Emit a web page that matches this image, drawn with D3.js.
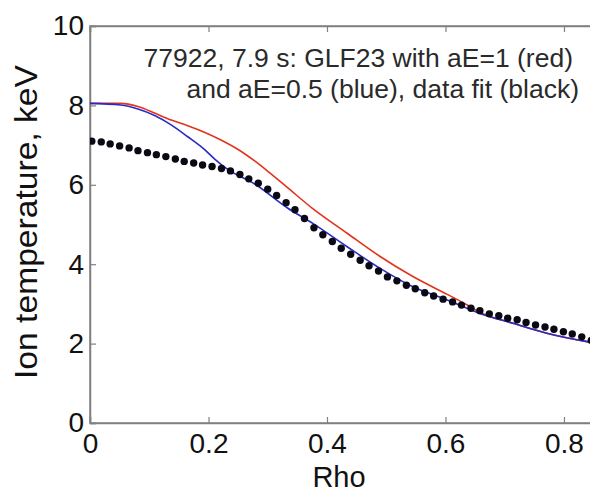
<!DOCTYPE html>
<html lang="en">
<head>
    <meta charset="UTF-8">
    <title>Ion temperature profile</title>
    <style>
        body { margin: 0; background: #fff; }
        svg text { font-family: "Liberation Sans", Arial, sans-serif; }
    </style>
    <script src="https://d3js.org/d3.v7.min.js"></script>
</head>
<body>
    <div id="chart"></div>

    <script>
        // values
        const xTicks = [0, 0.2, 0.4, 0.6, 0.8]
        const yTicks = [0, 2, 4, 6, 8, 10]

        // GLF23 with aE=1 (red)
        const redRho = [0, 0.052, 0.081, 0.110, 0.137, 0.165, 0.194, 0.221, 0.250, 0.278, 0.305, 0.334, 0.376, 0.434, 0.489, 0.545, 0.603, 0.636, 0.658, 0.714, 0.771, 0.839, 0.86]
        const redT   = [8.05, 8.05, 7.97, 7.80, 7.63, 7.49, 7.32, 7.13, 6.89, 6.60, 6.28, 5.92, 5.40, 4.78, 4.20, 3.69, 3.24, 2.98, 2.79, 2.51, 2.26, 2.05, 2.00]

        // GLF23 with aE=0.5 (blue)
        const blueRho = [0, 0.052, 0.081, 0.110, 0.137, 0.165, 0.194, 0.211, 0.233, 0.278, 0.334, 0.376, 0.434, 0.489, 0.545, 0.603, 0.658, 0.714, 0.771, 0.839, 0.86]
        const blueT   = [8.05, 8.01, 7.91, 7.74, 7.51, 7.21, 6.88, 6.64, 6.38, 6.02, 5.41, 5.03, 4.44, 3.90, 3.43, 3.10, 2.76, 2.51, 2.26, 2.05, 2.00]

        // data fit (black dots)
        const fitRho = [0.003, 0.019, 0.034, 0.050, 0.066, 0.081, 0.097, 0.112, 0.128, 0.144,
                        0.159, 0.175, 0.190, 0.206, 0.222, 0.237, 0.253, 0.268, 0.284, 0.300,
                        0.315, 0.331, 0.346, 0.362, 0.378, 0.393, 0.409, 0.424, 0.440, 0.456,
                        0.471, 0.487, 0.502, 0.518, 0.534, 0.549, 0.565, 0.580, 0.596, 0.612,
                        0.627, 0.643, 0.658, 0.674, 0.690, 0.705, 0.721, 0.736, 0.752, 0.768,
                        0.783, 0.799, 0.814, 0.830, 0.846]
        const fitT   = [7.10, 7.08, 7.03, 6.98, 6.93, 6.86, 6.81, 6.76, 6.71, 6.65,
                        6.59, 6.55, 6.50, 6.46, 6.41, 6.35, 6.26, 6.15, 6.04, 5.89,
                        5.73, 5.55, 5.37, 5.15, 4.92, 4.74, 4.57, 4.40, 4.25, 4.10,
                        3.96, 3.83, 3.68, 3.58, 3.47, 3.38, 3.28, 3.20, 3.12, 3.05,
                        2.97, 2.89, 2.83, 2.75, 2.70, 2.64, 2.60, 2.53, 2.47, 2.42,
                        2.36, 2.30, 2.24, 2.17, 2.08]

        const noteLines = ["77922, 7.9 s: GLF23 with aE=1 (red)", "and aE=0.5 (blue), data fit (black)"]

        // layout
        const margin = {top: 26, left: 90}
        const width = 503.6, height = 397
        const axisColor = "#808080"

        const svg = d3.select("#chart")
            .append("svg")
            .attr("width", 590)
            .attr("height", 492)

        const g = svg.append("g")
            .attr("transform", `translate(${margin.left},${margin.top})`)

        const x = d3.scaleLinear().domain([0, 0.85]).range([0, width])
        const y = d3.scaleLinear().domain([0, 10]).range([height, 0])

        const zip = (a, b) => a.map((v, i) => [v, b[i]])

        //clip so the curves stop at the box
        g.append("clipPath").attr("id", "clip")
            .append("rect").attr("width", width).attr("height", height)

        // frame lines
        g.append("rect")
            .attr("width", width).attr("height", height)
            .attr("fill", "none")
            .attr("stroke", axisColor)
            .attr("stroke-width", 1.5)

        // bottom axis with inward ticks
        const xAxis = g.append("g")
            .attr("transform", `translate(0,${height})`)
            .call(d3.axisBottom(x).tickValues(xTicks).tickSize(-6).tickPadding(10).tickFormat(d3.format("")))
        // top ticks
        const xTop = g.append("g")
            .call(d3.axisTop(x).tickValues(xTicks).tickSize(-6).tickFormat(""))
        // left axis
        const yAxis = g.append("g")
            .call(d3.axisLeft(y).tickValues(yTicks).tickSize(-6).tickPadding(6))

        ;[xAxis, xTop, yAxis].forEach(a => {
            a.select(".domain").attr("stroke", axisColor).attr("stroke-width", 1.5)
            a.selectAll(".tick line").attr("stroke", axisColor).attr("stroke-width", 1.2)
            a.selectAll("text").attr("fill", "#111").style("font-size", "28px")
                .style("font-family", "'Liberation Sans', Arial, sans-serif")
        })

        const line = d3.line()
            .x(d => x(d[0]))
            .y(d => y(d[1]))
            .curve(d3.curveMonotoneX)

        const plot = g.append("g").attr("clip-path", "url(#clip)")

        plot.append("path")
            .datum(zip(redRho, redT))
            .attr("d", line)
            .attr("fill", "none")
            .attr("stroke", "#e0341e")
            .attr("stroke-width", 1.6)

        plot.append("path")
            .datum(zip(blueRho, blueT))
            .attr("d", line)
            .attr("fill", "none")
            .attr("stroke", "#2a2ac8")
            .attr("stroke-width", 1.6)

        plot.selectAll("circle")
            .data(zip(fitRho, fitT))
            .join("circle")
            .attr("cx", d => x(d[0]))
            .attr("cy", d => y(d[1]))
            .attr("r", 3.7)
            .attr("fill", "#0a0a14")

        // annotation
        g.append("text")
            .attr("x", 483).attr("y", 41)
            .attr("text-anchor", "end")
            .attr("fill", "#2a2a2a")
            .style("font-size", "26.5px")
            .text(noteLines[0])
        g.append("text")
            .attr("x", 489).attr("y", 72)
            .attr("text-anchor", "end")
            .attr("fill", "#2a2a2a")
            .style("font-size", "26.5px")
            .text(noteLines[1])

        // axis labels
        svg.append("text")
            .attr("x", 339).attr("y", 487)
            .attr("text-anchor", "middle")
            .attr("fill", "#111")
            .style("font-size", "29px")
            .text("Rho")

        svg.append("text")
            .attr("transform", "translate(37,222) rotate(-90)")
            .attr("text-anchor", "middle")
            .attr("fill", "#111")
            .style("font-size", "32px")
            .attr("textLength", 314)
            .attr("lengthAdjust", "spacingAndGlyphs")
            .text("Ion temperature, keV")
    </script>
</body>
</html>
